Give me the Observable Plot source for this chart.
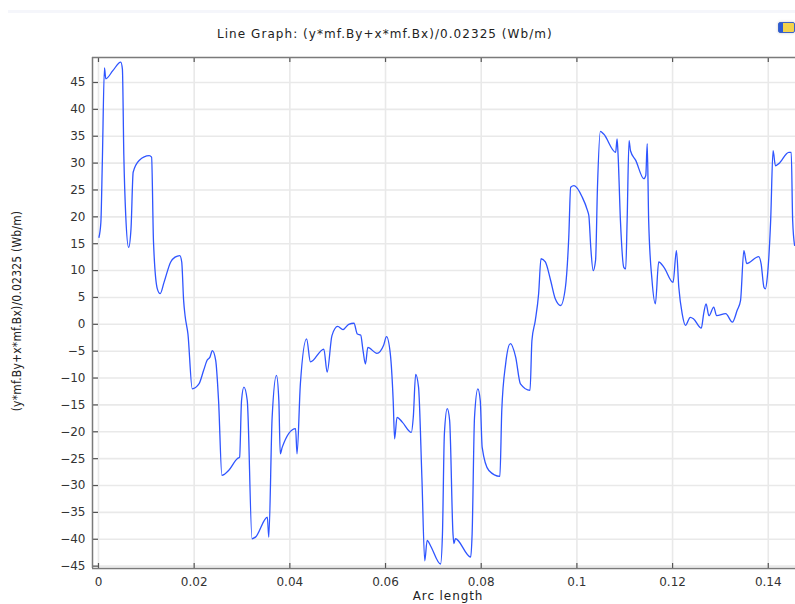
<!DOCTYPE html>
<html>
<head>
<meta charset="utf-8">
<script src="https://cdn.jsdelivr.net/npm/d3@7"></script>
<script src="https://cdn.jsdelivr.net/npm/@observablehq/plot@0.6"></script>
<style>
  html, body { margin: 0; padding: 0; background: #fff; }
  #wrap { position: relative; width: 795px; height: 604px; overflow: hidden; font-family: "DejaVu Sans", sans-serif; }
  #band { position: absolute; left: 8px; top: 10px; width: 787px; height: 3px; background: #f5f6fb; }
  #title { position: absolute; left: 217px; top: 27px; font-size: 12px; color: #222; letter-spacing: 1.05px; white-space: nowrap; }
  #ylabel { position: absolute; left: 17px; top: 311px; transform: translate(-50%, -50%) rotate(-90deg); font-family: "DejaVu Sans Condensed", "DejaVu Sans", sans-serif; font-size: 12px; color: #222; letter-spacing: 0.2px; white-space: nowrap; }
  #xlabel { position: absolute; left: 448px; top: 589px; transform: translateX(-50%); font-size: 12px; color: #222; letter-spacing: 0.9px; white-space: nowrap; }
  #icon { position: absolute; left: 778px; top: 22px; width: 17px; height: 11px; border-radius: 2px; border: 1px solid #3a62c9; box-sizing: border-box; background: linear-gradient(90deg, #2a5bd6 0 25%, #f2d34c 25% 100%); box-shadow: 0 0 3px #ccc; }
  #chart { position: absolute; left: 0; top: 0; }
</style>
</head>
<body>
<div id="wrap">
  <div id="band"></div>
  <div id="title">Line Graph: (y*mf.By+x*mf.Bx)/0.02325 (Wb/m)</div>
  <div id="icon"></div>
  <div id="chart"></div>
  <div id="ylabel">(y*mf.By+x*mf.Bx)/0.02325 (Wb/m)</div>
  <div id="xlabel">Arc length</div>
</div>
<script>
const arcLength = [
  0.0001, 0.0005, 0.0008, 0.00125, 0.00153, 0.0030, 0.00466, 0.0050, 0.0053, 0.0057,
  0.0063, 0.0068, 0.00725, 0.0085, 0.0106, 0.0111, 0.0115, 0.0123, 0.0129, 0.0137,
  0.0151, 0.0160, 0.0170, 0.0174, 0.0178, 0.0181, 0.0187, 0.0196, 0.0210, 0.0220,
  0.0227, 0.0233, 0.0238, 0.0245, 0.0251, 0.0258, 0.0272, 0.0290, 0.0295, 0.0299,
  0.0304, 0.0311, 0.0321, 0.0328, 0.0353, 0.0356, 0.0363, 0.0372, 0.0377, 0.0380,
  0.0384, 0.0412, 0.0415, 0.0422, 0.0435, 0.0443, 0.0471, 0.0478, 0.0488, 0.0500,
  0.0511, 0.0523, 0.0534, 0.0541, 0.0548, 0.0553, 0.0558, 0.0563, 0.0582, 0.0596,
  0.0602, 0.0610, 0.0616, 0.0619, 0.0624, 0.0635, 0.0654, 0.0658, 0.0663, 0.0669,
  0.0676, 0.0682, 0.0687, 0.0694, 0.0715, 0.0719, 0.0723, 0.0729, 0.0734, 0.0741,
  0.0743, 0.0746, 0.0778, 0.0781, 0.0786, 0.0793, 0.0798, 0.0802, 0.0816, 0.0839,
  0.0843, 0.0851, 0.0861, 0.0872, 0.0882, 0.0902, 0.0906, 0.0913, 0.0920, 0.0925,
  0.0934, 0.0945, 0.0955, 0.0966, 0.0976, 0.0983, 0.0987, 0.0994, 0.1011, 0.1022,
  0.1025, 0.1029, 0.1034, 0.1039, 0.1043, 0.1049, 0.1056, 0.1081, 0.1084, 0.1086,
  0.1091, 0.1098, 0.1102, 0.1105, 0.1109, 0.1112, 0.1123, 0.1140, 0.1144, 0.1147,
  0.1150, 0.1157, 0.1164, 0.1171, 0.1182, 0.1201, 0.1208, 0.1213, 0.1220, 0.1227,
  0.1237, 0.1244, 0.1260, 0.1265, 0.1270, 0.1276, 0.1286, 0.1292, 0.1311, 0.1325,
  0.1335, 0.1342, 0.1349, 0.1355, 0.1380, 0.1385, 0.1391, 0.1394, 0.1398, 0.1405,
  0.1410, 0.1415, 0.1422, 0.1443, 0.1448, 0.1451, 0.1455
];
const fluxValue = [
  16.2, 19.0, 30.0, 47.7, 45.7, 47.2, 48.8, 47.5, 31.4, 20.2,
  14.3, 17.8, 28.3, 30.5, 31.4, 31.1, 15.3, 6.6, 5.7, 7.8,
  11.6, 12.5, 12.8, 11.6, 4.4, 1.6, -1.8, -12.0, -11.1, -8.5,
  -6.7, -6.1, -4.9, -6.7, -14.2, -28.1, -27.2, -25.0, -24.7, -14.2,
  -11.7, -14.2, -39.9, -39.6, -35.9, -39.6, -17.3, -9.5, -14.2, -24.1,
  -22.9, -19.4, -24.1, -11.1, -2.7, -7.0, -4.6, -8.9, -2.1, -0.4,
  -1.0, 0.0, 0.2, -1.8, -2.0, -4.9, -7.4, -4.3, -5.4, -3.9,
  -2.3, -5.5, -14.2, -21.3, -17.3, -18.2, -20.1, -17.3, -9.3, -11.7,
  -28.5, -44.0, -40.2, -41.2, -44.6, -39.0, -20.4, -15.7, -17.9, -39.0,
  -40.8, -39.9, -43.3, -39.0, -17.3, -12.0, -14.2, -22.9, -27.2, -28.3,
  -16.0, -7.4, -3.6, -6.1, -11.1, -12.3, -3.0, 0.7, 5.7, 12.2,
  11.6, 8.2, 4.7, 3.5, 6.9, 16.2, 25.5, 25.8, 23.7, 21.2,
  20.2, 14.3, 10.0, 11.9, 25.5, 35.9, 35.4, 32.0, 34.5, 31.7,
  19.3, 10.6, 10.3, 19.3, 34.2, 32.3, 30.5, 27.1, 27.7, 33.6,
  19.3, 8.2, 3.8, 11.6, 10.6, 7.8, 13.7, 6.9, 2.0, -0.2,
  1.3, 1.0, -0.7, 2.0, 3.8, 1.6, 3.2, 1.6, 2.0, 0.4,
  2.6, 4.4, 13.7, 11.3, 12.6, 11.3, 6.9, 6.6, 8.8, 19.3,
  32.3, 29.5, 29.9, 32.0, 32.0, 19.3, 14.7
];
const xTicks = [0, 0.02, 0.04, 0.06, 0.08, 0.1, 0.12, 0.14];
const xTickLabels = ["0", "0.02", "0.04", "0.06", "0.08", "0.1", "0.12", "0.14"];
const yTicks = [-45, -40, -35, -30, -25, -20, -15, -10, -5, 0, 5, 10, 15, 20, 25, 30, 35, 40, 45];
const xDomain = [-0.00125, 0.14611];
const yDomain = [-45.44, 49.65];

const data = arcLength.map((x, i) => ({x, y: fluxValue[i]}));

const W = 795, H = 604, mL = 92, mR = -2, mT = 57, mB = 36;
const plotH = H - mT - mB;
const plotW = W - mL - mR;

const chart = Plot.plot({
  width: W,
  height: H,
  marginLeft: mL,
  marginRight: mR,
  marginTop: mT,
  marginBottom: mB,
  style: {fontFamily: "DejaVu Sans, sans-serif", fontSize: "12px", color: "#333", background: "transparent", overflow: "visible"},
  x: {domain: xDomain},
  y: {domain: yDomain},
  marks: [
    Plot.gridX(xTicks, {stroke: "#e9e9e9", strokeOpacity: 1, strokeWidth: 1.6}),
    Plot.gridY(yTicks, {stroke: "#e9e9e9", strokeOpacity: 1, strokeWidth: 1.6}),
    Plot.tickY(yTicks, {y: d => d, insetRight: plotW - 6, stroke: "#555", strokeWidth: 1.2}),
    Plot.tickX(xTicks, {x: d => d, insetTop: plotH - 5, stroke: "#555", strokeWidth: 1.2}),
    Plot.tickX(xTicks, {x: d => d, insetBottom: plotH - 5, stroke: "#555", strokeWidth: 1.2}),
    Plot.ruleX([xDomain[0]], {stroke: "#7a7a7a", strokeWidth: 1.5}),
    Plot.ruleY([yDomain[0], yDomain[1]], {stroke: "#7a7a7a", strokeWidth: 1.5}),
    Plot.axisY(yTicks, {tickSize: 0, tickPadding: 7, fill: "#333", label: null, fontSize: 12, style: "letter-spacing:0.8px"}),
    Plot.axisX(xTicks, {tickSize: 0, tickPadding: 9, fill: "#333", label: null, fontSize: 12, tickFormat: (d) => xTickLabels[xTicks.indexOf(d)], style: "letter-spacing:0.8px"}),
    Plot.line(data, {x: "x", y: "y", stroke: "#2f55ff", strokeWidth: 1.3, curve: "monotone-x", clip: true})
  ]
});
document.getElementById("chart").appendChild(chart);
</script>
</body>
</html>
